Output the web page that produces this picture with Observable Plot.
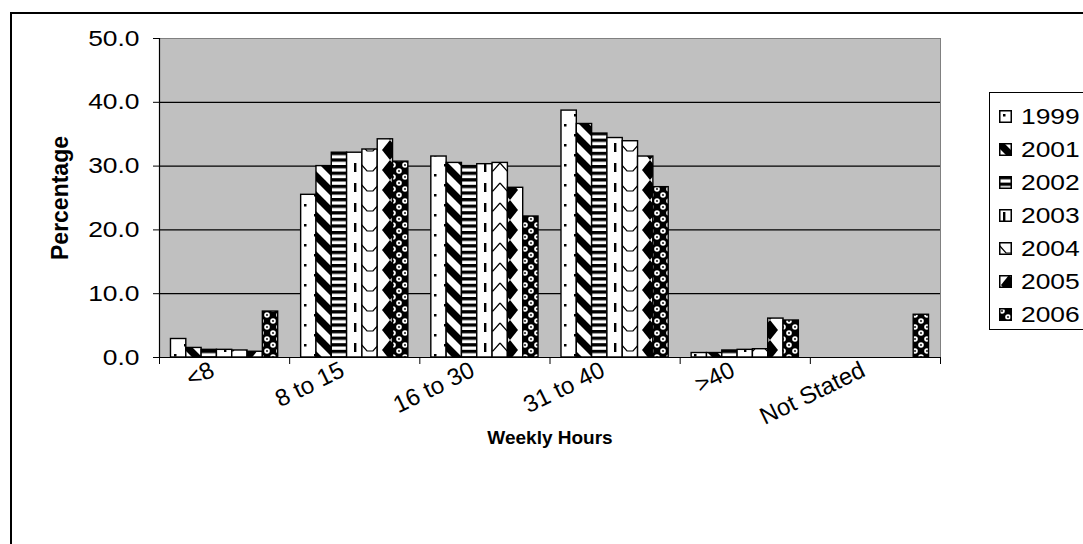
<!DOCTYPE html>
<html>
<head>
<meta charset="utf-8">
<script src="https://cdn.jsdelivr.net/npm/d3@7"></script>
<script src="https://cdn.jsdelivr.net/npm/@observablehq/plot@0.6"></script>
<style>
  body { margin: 0; background: #fff; font-family: "Liberation Sans", Arial, sans-serif; }
  #wrap { position: relative; width: 1083px; height: 544px; overflow: hidden; background: #fff; }
  #border { position: absolute; left: 10px; top: 12px; width: 1200px; height: 800px; border: 2px solid #000; }
  #chart { position: absolute; left: 0; top: 0; }
  #legend { position: absolute; left: 989px; top: 92px; width: 140px; height: 238px; border: 1.5px solid #000;
            background: #fff; box-sizing: border-box; padding-top: 7px; }
  .item { display: flex; align-items: center; height: 33px; font-size: 22px; color: #000; }
  .item svg { margin-left: 9px; margin-right: 9px; flex: none; }
  .item span { display: inline-block; transform: scaleX(1.2); transform-origin: 0 50%; }
</style>
</head>
<body>
<div id="wrap">
  <div id="border"></div>
  <div id="chart"></div>
  <div id="legend"></div>
</div>

<!-- Black-and-white fill patterns, one per survey year -->
<svg width="0" height="0" style="position:absolute">
  <defs>
    <pattern id="p1999" width="20" height="20" patternUnits="userSpaceOnUse">
      <rect width="20" height="20" fill="#fff"/>
      <rect x="4" y="4" width="2.5" height="2.5" fill="#000"/>
      <rect x="14" y="14" width="2.5" height="2.5" fill="#000"/>
    </pattern>
    <pattern id="p2001" width="20" height="20" patternUnits="userSpaceOnUse">
      <rect width="20" height="20" fill="#fff"/>
      <path d="M0,0H5L20,15V20H15L0,5Z M15,0H20V5Z M0,15L5,20H0Z" fill="#000"/>
    </pattern>
    <pattern id="p2002" width="20" height="6.6" patternUnits="userSpaceOnUse">
      <rect width="20" height="6.6" fill="#fff"/>
      <rect width="20" height="3.3" fill="#000"/>
    </pattern>
    <pattern id="p2003" width="10" height="20" patternUnits="userSpaceOnUse">
      <rect width="10" height="20" fill="#fff"/>
      <rect x="4" y="3" width="2.4" height="9" fill="#000"/>
    </pattern>
    <pattern id="p2004" width="20" height="20" patternUnits="userSpaceOnUse">
      <rect width="20" height="20" fill="#fff"/>
      <path d="M0,3L7,11L13,11L20,3" fill="none" stroke="#000" stroke-width="1.2"/>
    </pattern>
    <pattern id="p2005" width="20" height="20" patternUnits="userSpaceOnUse">
      <rect width="20" height="20" fill="#fff"/>
      <polygon points="10,0 18,10 10,20 2,10" fill="#000"/>
    </pattern>
    <pattern id="p2006" width="12" height="12" patternUnits="userSpaceOnUse">
      <rect width="12" height="12" fill="#000"/>
      <circle cx="3" cy="3" r="2.8" fill="#fff"/>
      <circle cx="9" cy="9" r="2.8" fill="#fff"/>
      <circle cx="3" cy="3" r="0.9" fill="#000"/>
      <circle cx="9" cy="9" r="0.9" fill="#000"/>
    </pattern>
  </defs>
</svg>

<script>
// Share of respondents by weekly hours worked, per survey year (%)
const categories = ["<8", "8 to 15", "16 to 30", "31 to 40", ">40", "Not Stated"];
const years = ["1999", "2001", "2002", "2003", "2004", "2005", "2006"];

const v1999 = [2.9, 25.5, 31.5, 38.7, 0.7, 0];
const v2001 = [1.5, 30.0, 30.5, 36.6, 0.7, 0];
const v2002 = [1.2, 32.1, 30.0, 35.1, 1.1, 0];
const v2003 = [1.2, 32.1, 30.3, 34.4, 1.2, 0];
const v2004 = [1.1, 32.6, 30.5, 33.9, 1.3, 0];
const v2005 = [0.9, 34.2, 26.6, 31.5, 6.1, 0];
const v2006 = [7.2, 30.7, 22.1, 26.7, 5.8, 6.7];

const yTicks = [0, 10, 20, 30, 40, 50];

const series = [v1999, v2001, v2002, v2003, v2004, v2005, v2006];
const rows = [];
years.forEach((year, yi) => {
  series[yi].forEach((value, gi) => {
    if (value > 0) rows.push({category: categories[gi], gi, year, yi, value});
  });
});

// Clustered layout: each category spans one unit of x; bars sit side by side
// with a gap of 1.5 bar widths between clusters.
const gap = 1.5;
const slot = years.length + gap;
const x1 = d => d.gi + (gap / 2 + d.yi) / slot;
const x2 = d => d.gi + (gap / 2 + d.yi + 1) / slot;

const font = "'Liberation Sans', Arial, sans-serif";
const widenBy = 1.2; // regular labels are set in a horizontally widened face

const chart = Plot.plot({
  width: 1083,
  height: 544,
  marginLeft: 159,
  marginRight: 143,
  marginTop: 38,
  marginBottom: 187,
  style: {fontFamily: font, background: "transparent", color: "#000", overflow: "visible"},
  x: {domain: [0, categories.length], axis: null},
  y: {domain: [yTicks[0], yTicks[yTicks.length - 1]], axis: null},
  marks: [
    Plot.frame({fill: "#c0c0c0", stroke: "#808080"}),
    Plot.ruleY(yTicks.slice(1, -1), {stroke: "#000", strokeWidth: 1.2}),
    ...years.map(year => Plot.rect(rows.filter(r => r.year === year), {
      x1, x2, y1: 0, y2: "value",
      fill: `url(#p${year})`, stroke: "#000", strokeWidth: 1.4
    })),
    Plot.ruleX([0], {stroke: "#000", strokeWidth: 1.2}),
    Plot.ruleY([0], {stroke: "#000", strokeWidth: 1.2}),
    Plot.axisY({
      ticks: yTicks, tickFormat: d3.format(".1f"), tickSize: 6, tickPadding: 14,
      fontSize: 22, label: null, stroke: "#000"
    }),
    Plot.axisX({
      ticks: d3.range(categories.length + 1), tickFormat: () => "", tickSize: 7,
      label: null, stroke: "#000"
    }),
    Plot.text(categories, {
      x: (d, i) => i + 0.5, y: 0, text: d => d,
      rotate: -26, textAnchor: "end", lineAnchor: "middle",
      dx: -12, dy: 11, fontSize: 24, ariaLabel: "category labels"
    }),
    Plot.text(["Percentage"], {
      frameAnchor: "left", text: d => d, rotate: -90,
      textAnchor: "middle", lineAnchor: "middle",
      dx: -99, fontSize: 23, fontWeight: "bold"
    }),
    Plot.text(["Weekly Hours"], {
      frameAnchor: "bottom", text: d => d,
      textAnchor: "middle", lineAnchor: "middle",
      dy: 80, fontSize: 19, fontWeight: "bold"
    })
  ]
});

// Stretch label glyphs horizontally about their anchor points
// (the anchor sits in the transform; the em-based line offset stays on the element).
function widen(selection, s) {
  selection.each(function() {
    const t = this.getAttribute("transform") || "";
    const next = /rotate\(/.test(t)
      ? t.replace(/rotate\(/, `scale(${s},1) rotate(`)
      : `${t} scale(${s},1)`;
    this.setAttribute("transform", next.trim());
  });
}
const svg = d3.select(chart);
widen(svg.selectAll('g[aria-label="y-axis tick label"] text'), widenBy);
widen(svg.selectAll('g[aria-label="category labels"] text'), widenBy);

document.getElementById("chart").append(chart);

// Legend: one patterned swatch per survey year
const legend = d3.select("#legend");
years.forEach(year => {
  const item = legend.append("div").attr("class", "item");
  const sw = item.append("svg").attr("width", 13).attr("height", 13);
  sw.append("rect").attr("x", 0.75).attr("y", 0.75).attr("width", 11.5).attr("height", 11.5)
    .attr("fill", `url(#p${year})`).attr("stroke", "#000").attr("stroke-width", 1.5);
  item.append("span").text(year);
});
</script>
</body>
</html>
